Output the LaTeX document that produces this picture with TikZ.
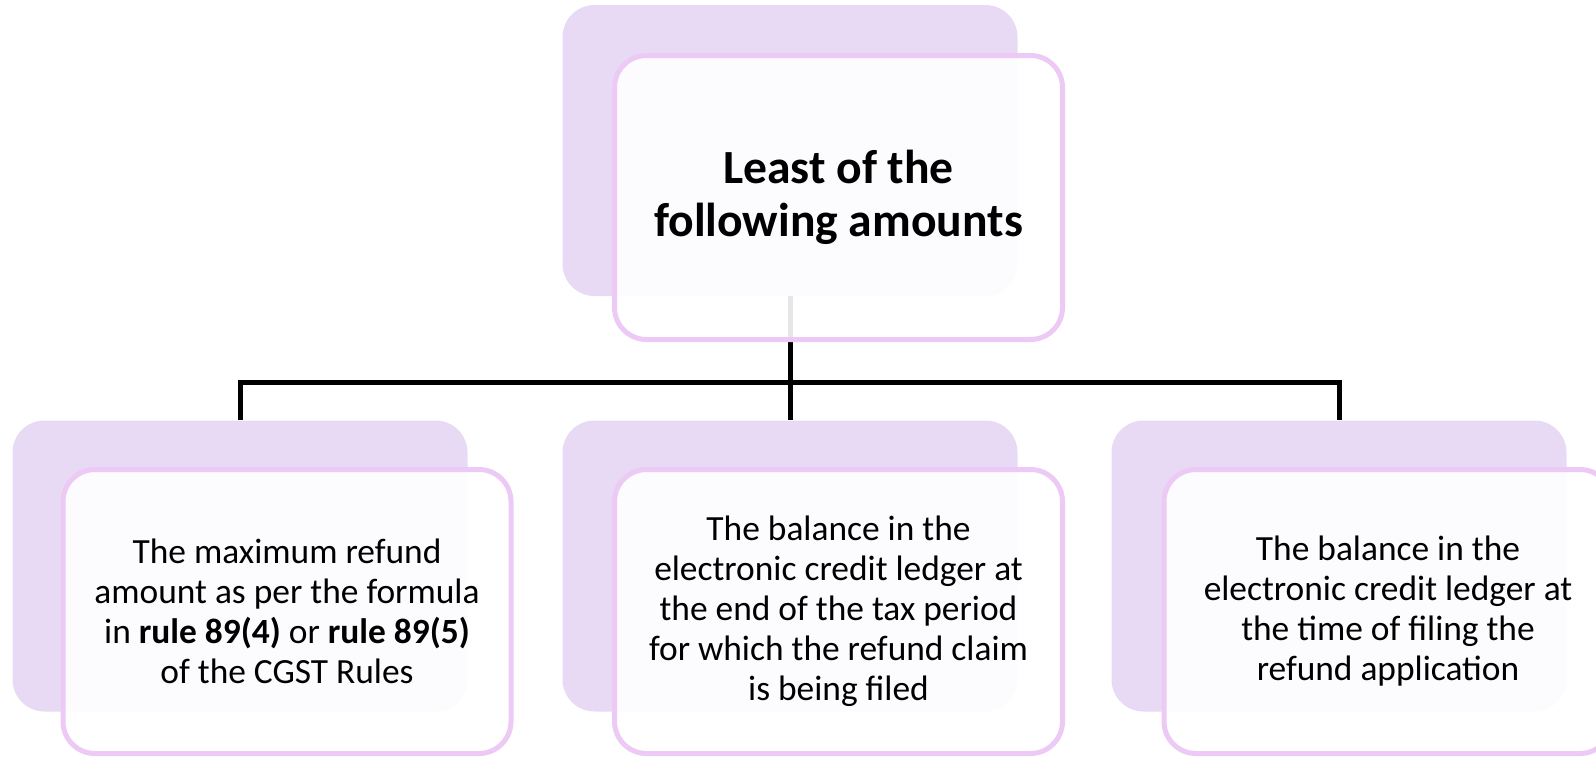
\documentclass[tikz,border=0pt]{standalone}
\usepackage{fontspec}
\setmainfont{Carlito}
\usetikzlibrary{calc}

\definecolor{backlav}{HTML}{E8DAF4}
\definecolor{frontrim}{HTML}{ECCAF5}

\begin{document}
\begin{tikzpicture}[x=0.5pt, y=-0.5pt]

		\tikzstyle{backbox}  = [rectangle, rounded corners=16pt, fill=backlav, draw=none, minimum width=227.5pt, minimum height=145.5pt, inner sep=0pt]
		\tikzstyle{frontbox} = [rectangle, rounded corners=16pt, draw=frontrim, line width=2.5pt, fill=white, fill opacity=0.9, text opacity=1, minimum width=224pt, minimum height=142pt, inner sep=0pt, align=center]
		\tikzstyle{leaftext} = [font=\fontsize{17.7pt}{20pt}\selectfont]
		\tikzstyle{conn}     = [line width=2.5pt, black]

		\useasboundingbox (0,0) rectangle (1596,757);

		%%Back panels
		\node [backbox](topback) at (790, 150.5) {};
		\node [backbox](leftback) at (240, 566) {};
		\node [backbox](midback) at (790, 566) {};
		\node [backbox](rightback) at (1339, 566) {};

		%%Tree connectors
		\coordinate (bus) at (790, 382);
		\draw [conn] (topback.south) -- (midback.north);
		\draw [conn] (topback.south) -- (bus) -| (leftback.north);
		\draw [conn] (bus) -| (rightback.north);

		%%Front panels with text
		\node [frontbox, font=\bfseries\fontsize{23.8pt}{26.5pt}\selectfont](least) at (838.5, 197.5) {Least of the\\following amounts};
		\node [frontbox, leaftext](formula) at (287, 611.5) {The maximum refund\\amount as per the formula\\in \textbf{rule 89(4)} or \textbf{rule 89(5)}\\of the CGST Rules};
		\node [frontbox, leaftext](period) at (838.5, 611.5) {The balance in the\\electronic credit ledger at\\the end of the tax period\\for which the refund claim\\is being filed};
		\node [frontbox, leaftext](filing) at (1388, 611.5) {The balance in the\\electronic credit ledger at\\the time of filing the\\refund application};
	\end{tikzpicture}
\end{document}
